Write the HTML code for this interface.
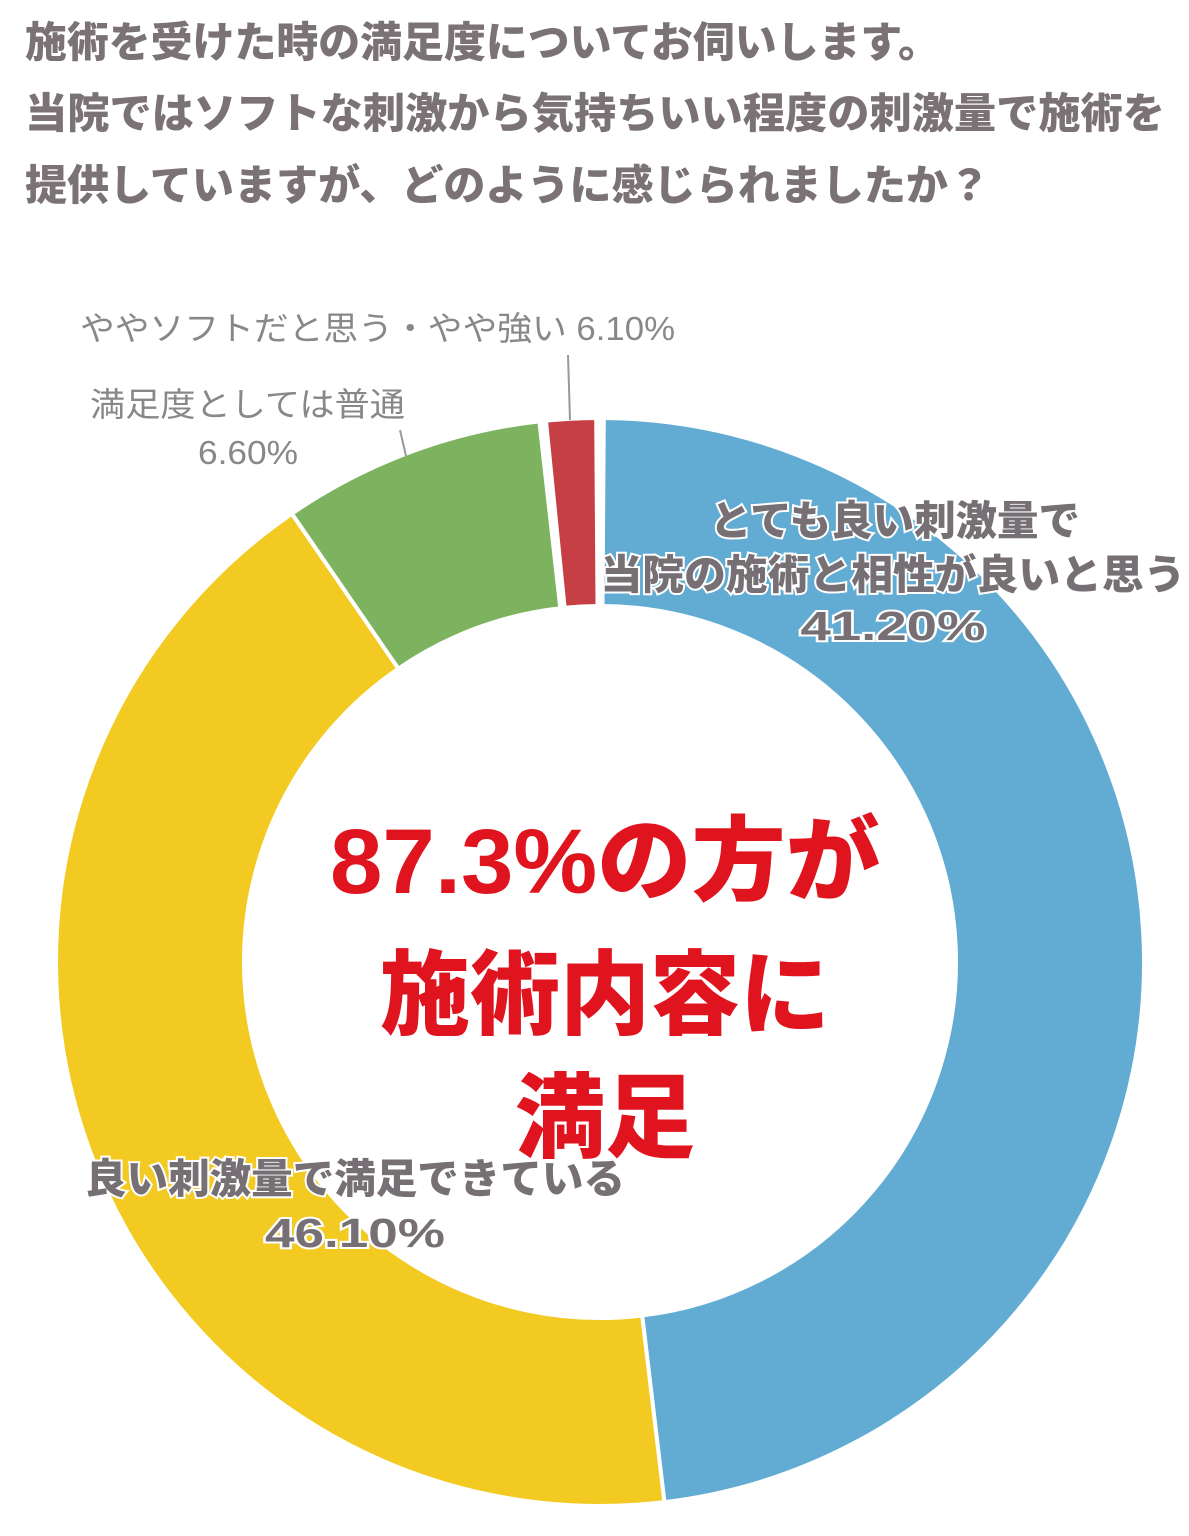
<!DOCTYPE html>
<html><head><meta charset="utf-8">
<style>
html,body{margin:0;padding:0;background:#fff;}
svg{display:block;}
text{font-family:"Liberation Sans","Noto Sans CJK JP",sans-serif;}
</style></head>
<body>
<svg id="s" width="1189" height="1536" viewBox="0 0 1189 1536" xmlns="http://www.w3.org/2000/svg">
<g font-weight="900" fill="#7a7276" font-size="42">
<text x="25" y="57" textLength="915" lengthAdjust="spacingAndGlyphs">施術を受けた時の満足度についてお伺いします。</text>
<text x="25" y="128" textLength="1140" lengthAdjust="spacingAndGlyphs">当院ではソフトな刺激から気持ちいい程度の刺激量で施術を</text>
<text x="25" y="200" textLength="965" lengthAdjust="spacingAndGlyphs">提供していますが、どのように感じられましたか？</text>
</g>
<g id="donut"></g>
<line x1="568" y1="355" x2="570" y2="420" stroke="#999" stroke-width="2"/>
<line x1="400" y1="430" x2="406" y2="456" stroke="#999" stroke-width="2"/>
<g fill="#888" font-size="33">
<text x="80" y="340" textLength="595" lengthAdjust="spacingAndGlyphs">ややソフトだと思う・やや強い 6.10%</text>
<text x="90" y="416" textLength="315" lengthAdjust="spacingAndGlyphs">満足度としては普通</text>
<text x="198" y="464" textLength="100" lengthAdjust="spacingAndGlyphs">6.60%</text>
</g>
<g font-weight="900" font-size="41" fill="#767075" stroke="#fff" stroke-width="4" paint-order="stroke" text-anchor="middle">
<text x="895" y="535" textLength="370" lengthAdjust="spacingAndGlyphs">とても良い刺激量で</text>
<text x="893" y="589" textLength="585" lengthAdjust="spacingAndGlyphs">当院の施術と相性が良いと思う</text>
<text x="893" y="640" textLength="185" lengthAdjust="spacingAndGlyphs">41.20%</text>
<text x="355" y="1193" textLength="540" lengthAdjust="spacingAndGlyphs">良い刺激量で満足できている</text>
<text x="355" y="1247" textLength="180" lengthAdjust="spacingAndGlyphs">46.10%</text>
</g>
<g font-weight="900" font-size="92" fill="#e0141e" text-anchor="middle">
<text x="605" y="893" textLength="550" lengthAdjust="spacingAndGlyphs">87.3%の方が</text>
<text x="605" y="1027" textLength="450" lengthAdjust="spacingAndGlyphs">施術内容に</text>
<text x="605" y="1150" textLength="180" lengthAdjust="spacingAndGlyphs">満足</text>
</g>
</svg>
<script>
(function(){
var cx=600,cy=962,R=544,r=356;
function p(a,rad){var t=a*Math.PI/180;return (cx+rad*Math.sin(t)).toFixed(2)+","+(cy-rad*Math.cos(t)).toFixed(2);}
function seg(a0,a1,c){var l=(a1-a0)>180?1:0;
return '<path d="M'+p(a0,R)+' A'+R+','+R+' 0 '+l+' 1 '+p(a1,R)+' L'+p(a1,r)+' A'+r+','+r+' 0 '+l+' 0 '+p(a0,r)+' Z" fill="'+c+'" stroke="#fff" stroke-width="4"/>';}
var g=document.getElementById('donut');
g.innerHTML=seg(0.4,173.2,'#62acd3')+seg(173.2,325.5,'#f2ca22')+seg(325.5,353.6,'#7db35e')+seg(354.3,359.6,'#c53f45');
// re-append donut before text
var s=document.getElementById('s');
s.insertBefore(g,s.children[1]);
})();
</script>
</body></html>
